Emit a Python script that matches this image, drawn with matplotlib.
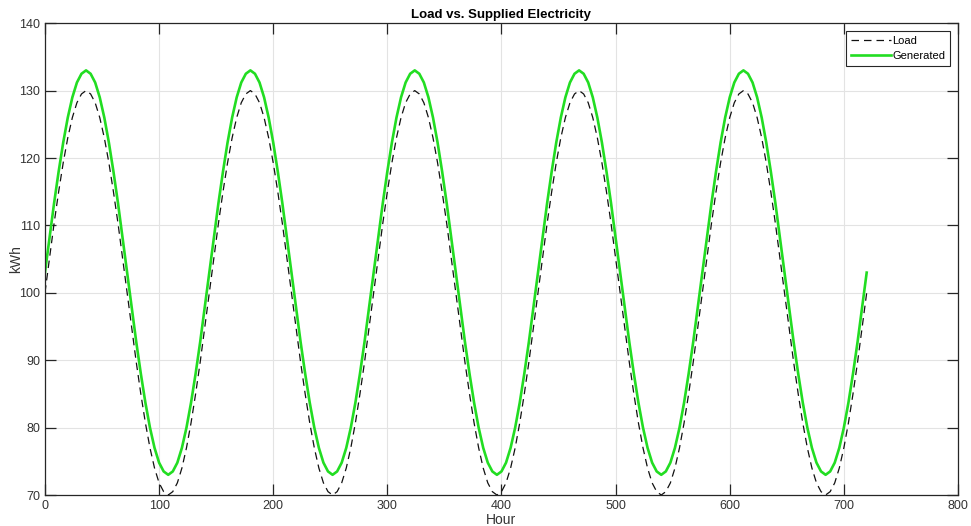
import matplotlib
matplotlib.use("Agg")
import matplotlib.pyplot as plt

hours = list(range(0, 721, 4))

load_kwh = [
    100, 105.2, 110.3, 115, 119.3, 123, 126, 128.2, 129.5, 130, 129.5, 128.2,
    126, 123, 119.3, 115, 110.3, 105.2, 100, 94.8, 89.7, 85, 80.7, 77,
    74, 71.8, 70.5, 70, 70.5, 71.8, 74, 77, 80.7, 85, 89.7, 94.8,
    100, 105.2, 110.3, 115, 119.3, 123, 126, 128.2, 129.5, 130, 129.5, 128.2,
    126, 123, 119.3, 115, 110.3, 105.2, 100, 94.8, 89.7, 85, 80.7, 77,
    74, 71.8, 70.5, 70, 70.5, 71.8, 74, 77, 80.7, 85, 89.7, 94.8,
    100, 105.2, 110.3, 115, 119.3, 123, 126, 128.2, 129.5, 130, 129.5, 128.2,
    126, 123, 119.3, 115, 110.3, 105.2, 100, 94.8, 89.7, 85, 80.7, 77,
    74, 71.8, 70.5, 70, 70.5, 71.8, 74, 77, 80.7, 85, 89.7, 94.8,
    100, 105.2, 110.3, 115, 119.3, 123, 126, 128.2, 129.5, 130, 129.5, 128.2,
    126, 123, 119.3, 115, 110.3, 105.2, 100, 94.8, 89.7, 85, 80.7, 77,
    74, 71.8, 70.5, 70, 70.5, 71.8, 74, 77, 80.7, 85, 89.7, 94.8,
    100, 105.2, 110.3, 115, 119.3, 123, 126, 128.2, 129.5, 130, 129.5, 128.2,
    126, 123, 119.3, 115, 110.3, 105.2, 100, 94.8, 89.7, 85, 80.7, 77,
    74, 71.8, 70.5, 70, 70.5, 71.8, 74, 77, 80.7, 85, 89.7, 94.8,
    100,
]

generated_kwh = [
    103, 108.2, 113.3, 118, 122.3, 126, 129, 131.2, 132.5, 133, 132.5, 131.2,
    129, 126, 122.3, 118, 113.3, 108.2, 103, 97.8, 92.7, 88, 83.7, 80,
    77, 74.8, 73.5, 73, 73.5, 74.8, 77, 80, 83.7, 88, 92.7, 97.8,
    103, 108.2, 113.3, 118, 122.3, 126, 129, 131.2, 132.5, 133, 132.5, 131.2,
    129, 126, 122.3, 118, 113.3, 108.2, 103, 97.8, 92.7, 88, 83.7, 80,
    77, 74.8, 73.5, 73, 73.5, 74.8, 77, 80, 83.7, 88, 92.7, 97.8,
    103, 108.2, 113.3, 118, 122.3, 126, 129, 131.2, 132.5, 133, 132.5, 131.2,
    129, 126, 122.3, 118, 113.3, 108.2, 103, 97.8, 92.7, 88, 83.7, 80,
    77, 74.8, 73.5, 73, 73.5, 74.8, 77, 80, 83.7, 88, 92.7, 97.8,
    103, 108.2, 113.3, 118, 122.3, 126, 129, 131.2, 132.5, 133, 132.5, 131.2,
    129, 126, 122.3, 118, 113.3, 108.2, 103, 97.8, 92.7, 88, 83.7, 80,
    77, 74.8, 73.5, 73, 73.5, 74.8, 77, 80, 83.7, 88, 92.7, 97.8,
    103, 108.2, 113.3, 118, 122.3, 126, 129, 131.2, 132.5, 133, 132.5, 131.2,
    129, 126, 122.3, 118, 113.3, 108.2, 103, 97.8, 92.7, 88, 83.7, 80,
    77, 74.8, 73.5, 73, 73.5, 74.8, 77, 80, 83.7, 88, 92.7, 97.8,
    103,
]

x_ticks = [0, 100, 200, 300, 400, 500, 600, 700, 800]
y_ticks = [70, 80, 90, 100, 110, 120, 130, 140]

plt.rcParams['font.family'] = ['Liberation Sans', 'DejaVu Sans']

fig = plt.figure(figsize=(9.71, 5.26), dpi=100)
ax = fig.add_axes([0.0463, 0.0589, 0.9403, 0.897])

ax.plot(hours, load_kwh, color='#111111', linestyle=(0, (6, 4)), linewidth=0.9,
        label='Load', solid_joinstyle='round')
ax.plot(hours, generated_kwh, color='#22dd22', linewidth=1.9, label='Generated',
        solid_joinstyle='round')

ax.set_xlim(0, 800)
ax.set_ylim(70, 140)
ax.set_xticks(x_ticks)
ax.set_yticks(y_ticks)
ax.grid(True, color='#e3e3e3', linewidth=0.8)
ax.set_axisbelow(True)

for s in ax.spines.values():
    s.set_color('#262626')
    s.set_linewidth(0.9)
ax.tick_params(direction='in', length=8, width=0.9, color='#262626',
               labelsize=9, labelcolor='#333333', top=True, right=True)

ax.set_title('Load vs. Supplied Electricity', fontsize=9.5, fontweight='bold', pad=4)
ax.set_xlabel('Hour', fontsize=10, color='#333333', labelpad=1)
ax.set_ylabel('kWh', fontsize=10, color='#333333')
ax.yaxis.set_label_coords(-0.024, 0.5)

leg = ax.legend(loc='upper right', fontsize=8, fancybox=False, framealpha=1,
                edgecolor='#262626', borderaxespad=0.7, handlelength=3.6,
                handletextpad=0.1, borderpad=0.45, labelspacing=0.45)
leg.get_frame().set_linewidth(0.8)

fig.savefig('out.png', dpi=100)
